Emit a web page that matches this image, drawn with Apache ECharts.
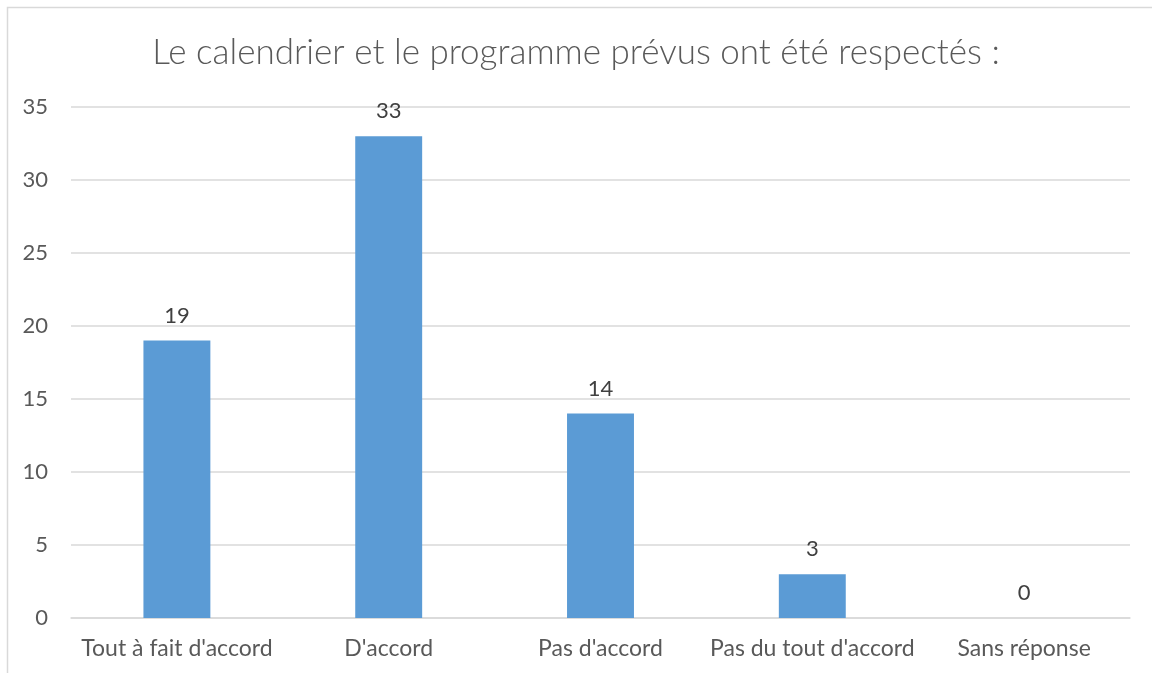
<!DOCTYPE html>
<html>
<head>
<meta charset="utf-8">
<script src="https://cdn.jsdelivr.net/npm/echarts@6/dist/echarts.min.js"></script>
<style>
  html, body { margin: 0; padding: 0; background: #fff; }
  #main { width: 1152px; height: 673px; }
</style>
</head>
<body>
<div id="main"></div>
<script>
  // données
  var titre = 'Le calendrier et le programme prévus ont été respectés :';
  var categories = ["Tout à fait d'accord", "D'accord", "Pas d'accord", "Pas du tout d'accord", "Sans réponse"];
  var valeurs = [19, 33, 14, 3, 0];

  var myChart = echarts.init(document.getElementById('main'));
  myChart.setOption({
      animation: false,
      textStyle: { fontFamily: 'Lato' },
      title: {
          text: titre,
          left: 'center',
          top: 30,
          textStyle: { fontSize: 35, fontWeight: 300, color: '#595959', fontFamily: 'Lato' }
      },
      graphic: [{
          type: 'rect',
          shape: { x: 7.5, y: 7.5, width: 1160, height: 700 },
          style: { fill: 'none', stroke: '#d9d9d9', lineWidth: 1.5 },
          silent: true
      }],
      grid: { left: 71, right: 22, top: 107, bottom: 55 },
      xAxis: {
          type: 'category',
          data: categories,
          axisLine: { lineStyle: { color: '#d9d9d9', width: 1.5 } },
          axisTick: { show: false },
          axisLabel: { color: '#595959', fontSize: 23, margin: 19, interval: 0 }
      },
      yAxis: {
          type: 'value',
          min: 0,
          max: 35,
          interval: 5,
          axisLine: { show: false },
          axisTick: { show: false },
          splitLine: { lineStyle: { color: '#d9d9d9', width: 1.5 } },
          axisLabel: { color: '#595959', fontSize: 22, margin: 23 }
      },
      color: '#5b9bd5',
      series: [{
          type: 'bar',
          data: valeurs,
          barWidth: '31.6%',
          label: { show: true, position: 'top', distance: 14, color: '#404040', fontSize: 22 }
      }]
  });
</script>
</body>
</html>
